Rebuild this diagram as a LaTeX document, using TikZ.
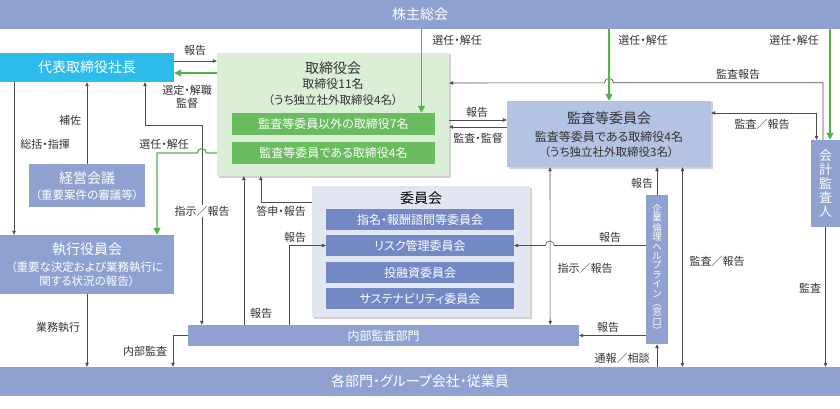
\documentclass[tikz,border=0pt]{standalone}
\usepackage{fontspec}
\setmainfont{Noto Sans CJK JP}[RawFeature=+palt]
\usetikzlibrary{arrows.meta,shadows}

\definecolor{barblue}{RGB}{142,161,208}
\definecolor{ceocyan}{RGB}{44,187,234}
\definecolor{boardbg}{RGB}{219,238,214}
\definecolor{boardin}{RGB}{106,189,95}
\definecolor{auditbg}{RGB}{180,195,228}
\definecolor{combg}{RGB}{226,230,243}
\definecolor{comin}{RGB}{114,137,198}
\definecolor{linegray}{RGB}{77,77,77}
\definecolor{selgreen}{RGB}{77,182,72}
\definecolor{textgray}{RGB}{51,51,51}

\newcommand{\vtight}{\lineskiplimit-20pt\lineskip0pt\relax}

\tikzset{
  plainbox/.style={inner sep=0pt,text=white},
  titlefont/.style={font=\fontsize{14}{16}\selectfont},
  bodyfont/.style={font=\fontsize{12}{14}\selectfont},
  notefont/.style={font=\fontsize{11.5}{14}\selectfont},
  lbl/.style={font=\fontsize{11}{12.5}\selectfont,text=textgray,inner sep=0.5pt},
  arr/.style={draw=linegray,line width=0.6pt,-{Triangle[length=4pt,width=3.5pt]}},
  biarr/.style={draw=linegray,line width=0.6pt,{Triangle[length=4pt,width=3.5pt]}-{Triangle[length=4pt,width=3.5pt]}},
  selarr/.style={draw=selgreen,line width=1.2pt,-{Triangle[length=7pt,width=7pt]}},
  softshadow/.style={drop shadow={shadow xshift=1.5pt,shadow yshift=-1.5pt,fill=black,opacity=0.18}}
}

\begin{document}
\begin{tikzpicture}[x=1pt,y=-1pt]
\useasboundingbox (0,0) rectangle (840,409);

% bars
\node[plainbox,fill=barblue,minimum width=840pt,minimum height=29pt,titlefont] (meeting) at (420,14.5) {株主総会};
\node[plainbox,fill=barblue,minimum width=840pt,minimum height=29pt,titlefont] (staff) at (420,381.5) {各部門・グループ会社・従業員};

% left column
\node[plainbox,fill=ceocyan,minimum width=174pt,minimum height=29pt,titlefont] (ceo) at (87,67.5) {代表取締役社長};
\node[plainbox,fill=barblue,minimum width=116pt,minimum height=43pt] (mgmt) at (87,185.5) {};
\node[titlefont,text=white] (mgmtT) at (87,178) {経営会議};
\node[notefont,text=white] (mgmtA) at (87,195) {（重要案件の審議等）};
\node[plainbox,fill=barblue,minimum width=174pt,minimum height=59pt] (exec) at (87,264.5) {};
\node[titlefont,text=white] (execT) at (87,249) {執行役員会};
\node[notefont,text=white] (execA) at (87,267) {（重要な決定および業務執行に};
\node[notefont,text=white] (execB) at (87,281) {関する状況の報告）};

% board
\node[plainbox,fill=boardbg,softshadow,minimum width=232pt,minimum height=123pt] (board) at (333,114.5) {};
\node[titlefont,text=textgray] (boardT) at (333,68) {取締役会};
\node[bodyfont,text=textgray] (boardN) at (333,84) {取締役11名};
\node[notefont,text=textgray] (boardO) at (333,100) {（うち独立社外取締役4名）};
\node[plainbox,fill=boardin,bodyfont,minimum width=203pt,minimum height=22pt] (boardA) at (333.5,124) {監査等委員以外の取締役7名};
\node[plainbox,fill=boardin,bodyfont,minimum width=203pt,minimum height=22pt] (boardB) at (333.5,153) {監査等委員である取締役4名};

% audit and supervisory committee
\node[plainbox,fill=auditbg,softshadow,minimum width=204pt,minimum height=66pt] (audit) at (609,134) {};
\node[titlefont,text=textgray] (auditT) at (609,118) {監査等委員会};
\node[bodyfont,text=textgray] (auditN) at (609,137) {監査等委員である取締役4名};
\node[notefont,text=textgray] (auditO) at (609,152) {（うち独立社外取締役3名）};

% committees
\node[plainbox,fill=combg,softshadow,minimum width=218pt,minimum height=131pt] (committee) at (421,251.5) {};
\node[titlefont,text=black] (committeeT) at (421,198) {委員会};
\foreach \y/\n/\t in {219.5/nomination/指名・報酬諮問等委員会,245.5/risk/リスク管理委員会,272.5/invest/投融資委員会,298.5/sustain/サステナビリティ委員会}
  \node[plainbox,fill=comin,bodyfont,minimum width=188pt,minimum height=21pt] (\n) at (420,\y) {\t};

% internal audit, helpline, accountant
\node[plainbox,fill=barblue,bodyfont,minimum width=391pt,minimum height=21pt] (internal) at (383.5,335.5) {内部監査部門};
\node[plainbox,fill=barblue,align=center,minimum width=22pt,minimum height=149pt,font=\fontsize{9.5}{9.4}\selectfont\vtight] (helpline) at (657,269.5) {企\\業\\倫\\理\\ヘ\\ル\\プ\\ラ\\イ\\ン\\︵\\窓\\口\\︶};
\node[plainbox,fill=barblue,align=center,minimum width=29pt,minimum height=87pt,font=\fontsize{13}{14}\selectfont\vtight] (accountant) at (825.5,183.5) {会\\計\\監\\査\\人};

% CEO and board
\draw[arr] ([yshift=6.5pt]ceo.east) -- ([yshift=53.5pt]board.west);
\node[lbl] (lblCeoRep) at (195,50) {報告};
\draw[selarr] ([yshift=41.5pt]board.west) -- ([yshift=-5.5pt]ceo.east);
\node[lbl,align=center] (lblAppoint) at (187,97) {選定・解職\\監督};

% left side
\draw[arr] (mgmt.north) -- (ceo.south);
\node[lbl] (lblAssist) at (70,120) {補佐};
\draw[arr] ([xshift=-73pt]ceo.south) -- ([xshift=-73pt]exec.north);
\node[lbl] (lblCommand) at (45,144) {総括・指揮};
\draw[biarr] ([xshift=58pt]ceo.south) -- ++(0,43) -| ([xshift=14pt]internal.north west);
\node[lbl,fill=white] (lblInstr) at (202,211) {指示／報告};
\draw[selarr] ([yshift=-38.5pt]board.west) -- ++(-10.5,0) arc[start angle=0,end angle=-180,radius=4.5] -| ([xshift=70pt]exec.north);
\node[lbl] (lblElect) at (164,144) {選任・解任};
\draw[arr] (exec.south) -- (exec.south |- staff.north);
\node[lbl] (lblExecute) at (58,327) {業務執行};
\draw[arr] (internal.west) -| ([xshift=-247pt]staff.north);
\node[lbl] (lblInAudit) at (145,351) {内部監査};

% internal audit and committees
\draw[arr] ([xshift=56pt]internal.north west) -- ([xshift=27pt]board.south west);
\node[lbl] (lblInRep) at (261,313) {報告};
\draw[arr] ([yshift=49.5pt]committee.west) -| ([xshift=44pt]board.south west);
\node[lbl] (lblAnswer) at (281,211) {答申・報告};
\draw[arr] ([xshift=101pt]internal.north west) |- (risk.west);
\node[lbl] (lblRiskRep) at (295,237) {報告};

% right side
\draw[arr] (helpline.west |- risk.east) -- ++(-91.5,0) arc[start angle=0,end angle=-180,radius=4.5] -- (risk.east);
\node[lbl] (lblHelpRisk) at (610,237) {報告};
\draw[biarr] ([xshift=-59pt]audit.south) -- ([xshift=-29pt]internal.north east);
\node[lbl] (lblAuditInstr) at (585,268) {指示／報告};
\draw[arr] (helpline.north) -- (helpline.north |- audit.south);
\node[lbl] (lblHelpAudit) at (642,183) {報告};
\draw[biarr] ([xshift=73.5pt]audit.south) -- ([xshift=262.5pt]staff.north);
\node[lbl] (lblAuditStaff) at (717,261) {監査／報告};
\draw[arr] (accountant.south) -- (accountant.south |- staff.north);
\node[lbl] (lblAccAudit) at (810,288) {監査};
\draw[arr] (helpline.south |- staff.north) -- (helpline.south);
\node[lbl] (lblConsult) at (622,358) {通報／相談};
\draw[arr] (helpline.west |- internal.east) -- (internal.east);
\node[lbl] (lblHelpIn) at (608,327) {報告};
\draw[biarr] ([yshift=21pt]audit.east) -| ([xshift=-9pt]accountant.north);
\node[lbl] (lblAccRep) at (762,124) {監査／報告};
\draw[arr] ([xshift=-2.5pt]accountant.north) -- ++(0,-57) -- ++(-209.5,0) arc[start angle=0,end angle=-180,radius=4.5] -- ([yshift=31.5pt]board.east);
\node[lbl] (lblAccReport) at (738,74) {監査報告};

% shareholders
\draw[selarr] ([xshift=1.5pt]meeting.south) -- ([xshift=88pt]boardA.north);
\node[lbl] (lblElectBoard) at (457,40) {選任・解任};
\draw[selarr] (meeting.south -| audit.north) -- (audit.north);
\node[lbl] (lblElectAudit) at (643,40) {選任・解任};
\draw[selarr] ([xshift=410pt]meeting.south) -- ([xshift=4.5pt]accountant.north);
\node[lbl] (lblElectAcc) at (794,40) {選任・解任};

% board and audit committee
\draw[arr] ([yshift=-5.5pt]board.east) -- ([yshift=14pt]audit.west);
\node[lbl] (lblBoardRep) at (477,112) {報告};
\draw[arr] ([yshift=7pt]audit.west) -- ([yshift=-12.5pt]board.east);
\node[lbl] (lblSupervise) at (478,138) {監査・監督};
\end{tikzpicture}
\end{document}
